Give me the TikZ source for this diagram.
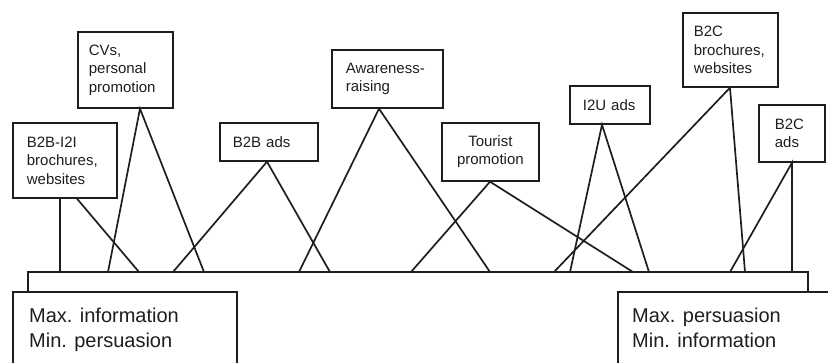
\documentclass[tikz,border=0pt]{standalone}
\usepackage{fontspec}
\setmainfont{Liberation Sans}
\usetikzlibrary{calc}
\definecolor{ink}{HTML}{1E1E1E}
\tikzset{
  lbl/.style={draw=ink, line width=1.7pt, text=ink, inner sep=0pt, anchor=north west,
    align=left, font=\fontsize{15}{18.5}\selectfont},
  conn/.style={draw=ink, line width=1.7pt},
  big/.style={text=ink, inner sep=0pt, anchor=north west, align=left,
    font=\fontsize{20}{25}\selectfont},
  bigbox/.style={draw=ink, line width=1.7pt, inner sep=0pt, anchor=north west, minimum height=120pt},
}
\begin{document}
\begin{tikzpicture}[x=1pt,y=-1pt]
\useasboundingbox (0,0) rectangle (828,362);
\clip (0,0) rectangle (828,362);

% upper boxes
\node[lbl, minimum width=104pt, minimum height=75pt, text width=76pt] (bb) at (12,122) {B2B-I2I\\brochures,\\websites};
\node[lbl, minimum width=95pt, minimum height=76pt, text width=73pt] (cv) at (77,31) {CVs,\\personal\\promotion};
\node[lbl, minimum width=98pt, minimum height=38pt, text width=72pt] (b2b) at (219,122) {B2B ads};
\node[lbl, minimum width=111pt, minimum height=58pt, text width=83pt] (aw) at (331,49) {Awareness-\\raising};
\node[lbl, minimum width=97pt, minimum height=58pt, text width=77pt, align=center] (tp) at (441,122) {Tourist\\promotion};
\node[lbl, minimum width=80pt, minimum height=38pt, text width=54pt] (i2u) at (569,85) {I2U ads};
\node[lbl, minimum width=95pt, minimum height=74pt, text width=73pt] (b2cb) at (682,12) {B2C\\brochures,\\websites};
\node[lbl, minimum width=66pt, minimum height=57pt, text width=34pt] (b2ca) at (758,104) {B2C\\ads};

% bottom boxes
\node[bigbox, minimum width=224pt] (lbox) at (12,291) {};
\node[bigbox, minimum width=260pt] (rbox) at (617,291) {};
\node[big] (linfo) at (29,307.5) {Max. information\\Min. persuasion};
\node[big] (rinfo) at (632,307.5) {Max. persuasion\\Min. information};

% scale line
\coordinate (bl) at (28,272);
\coordinate (br) at (808,272);
\draw[conn] (lbox.north -| bl) -- (bl) -- (br) -- (rbox.north -| br);

% points on scale
\foreach \n/\x in {e60/60,e108/108,e139/139,e173/173,e204/204,e299/299,e330/330,
  e411/411,e490/490,e554/554,e570/570,e633/633,e649/649,e730/730,e745/745,e792/792}
  \coordinate (\n) at (\x,272);

% apex points
\coordinate (abb1) at ($(bb.south west)+(48,0)$);
\coordinate (abb2) at ($(bb.south west)+(65,0)$);
\coordinate (acv) at ($(cv.south west)+(63,0)$);
\coordinate (ab2b) at ($(b2b.south west)+(48,0)$);
\coordinate (aaw) at ($(aw.south west)+(48,0)$);
\coordinate (atp) at ($(tp.south west)+(49,0)$);
\coordinate (ai2u) at ($(i2u.south west)+(33,0)$);
\coordinate (ab2cb) at ($(b2cb.south west)+(48,0)$);
\coordinate (ab2ca) at ($(b2ca.south west)+(34,0)$);

% connectors
\draw[conn] (abb1) -- (e60);
\draw[conn] (abb2) -- (e139);
\draw[conn] (e108) -- (acv) -- (e204);
\draw[conn] (e173) -- (ab2b) -- (e330);
\draw[conn] (e299) -- (aaw) -- (e490);
\draw[conn] (e411) -- (atp) -- (e633);
\draw[conn] (e570) -- (ai2u) -- (e649);
\draw[conn] (e554) -- (ab2cb) -- (e745);
\draw[conn] (e730) -- (ab2ca) -- (e792);
\end{tikzpicture}
\end{document}
